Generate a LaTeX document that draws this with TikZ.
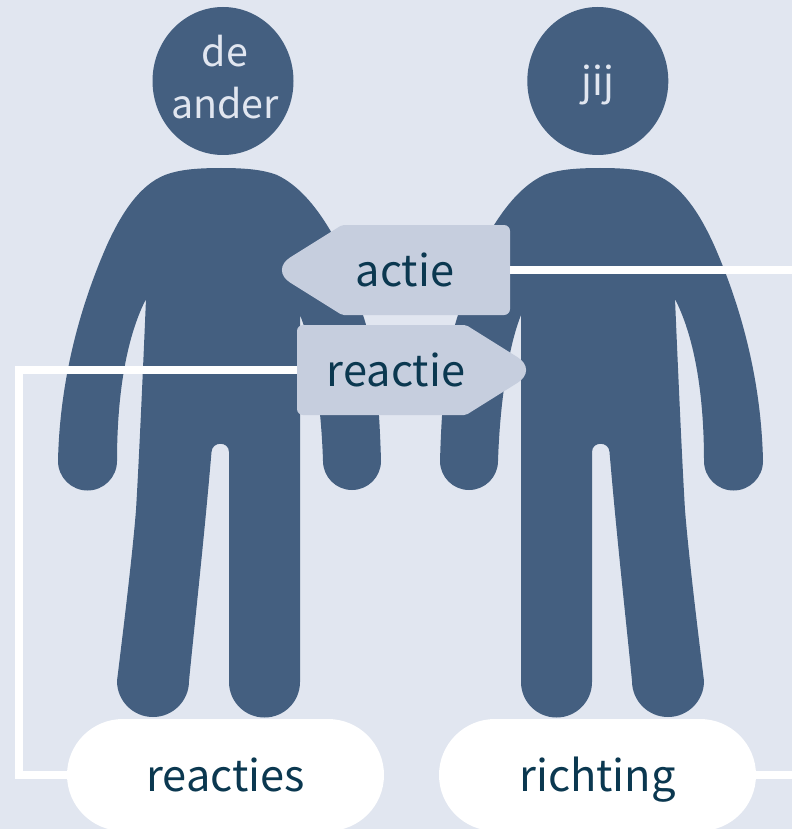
\documentclass[tikz,border=0pt]{standalone}
\usepackage{fontspec}
\setmainfont{Noto Sans CJK SC}
\usetikzlibrary{shapes.misc,shapes.geometric}
\definecolor{achtergrond}{HTML}{E1E6F0}
\definecolor{figuur}{HTML}{445F80}
\definecolor{pijlkleur}{HTML}{C6CEDE}
\definecolor{inkt}{HTML}{0B3850}
\tikzset{hoofd/.style={ellipse, fill=figuur, text=achtergrond, minimum width=141pt, minimum height=148pt, inner sep=-30pt, align=center, font=\fontsize{39.4}{52}\selectfont}}
\tikzset{pijl/.style={fill=pijlkleur, rounded corners=6pt}}
\tikzset{pijltekst/.style={rectangle, inner sep=+0pt, minimum height=90pt, text height=38pt, text depth=6pt, text=inkt, font=\fontsize{43.4}{52}\selectfont}}
\tikzset{pil/.style={rounded rectangle, fill=white, text=inkt, minimum width=317pt, minimum height=112pt, inner sep=+0pt, text height=40pt, text depth=6.6pt, font=\fontsize{43.4}{52}\selectfont}}
\tikzset{lijn/.style={draw=white, line width=8pt}}
\tikzset{persoon/.pic={
    \fill[figuur] (221,168) .. controls (195,168) and (178,170) .. (165,175)
        .. controls (140,185) and (122,212) .. (107,245)
        .. controls (85,295) and (60,370) .. (58,461)
        arc[radius=29.5, start angle=180, end angle=0]
        .. controls (117,400) and (125,340) .. (146,299)
        .. controls (143,370) and (139,460) .. (136,510)
        .. controls (132,560) and (122,640) .. (117,681)
        arc[radius=36, start angle=180, end angle=0]
        .. controls (195,620) and (204,540) .. (211.5,452)
        .. controls (212,441) and (229,441) .. (229,452)
        -- (229,682)
        arc[radius=35.5, start angle=180, end angle=0]
        -- (300,315) .. controls (312,345) and (321,400) .. (323,461)
        arc[radius=29, start angle=180, end angle=0]
        .. controls (379,390) and (373,345) .. (363,315)
        .. controls (355,285) and (345,255) .. (330,230)
        .. controls (315,205) and (298,185) .. (277,175)
        .. controls (264,170) and (247,168) .. (221,168) -- cycle;
}}

\begin{document}
\begin{tikzpicture}[x=1pt,y=-1pt]
    \useasboundingbox (0,0) rectangle (792,829);
    \clip (0,0) rectangle (792,829);
    \fill[achtergrond] (0,0) rectangle (792,829);

    \pic at (0,0) {persoon};
    \pic[xscale=-1] at (821,0) {persoon};

    \node[hoofd, text depth=8pt] (ander) at (223,81) {\hspace*{4pt}de\\\hspace*{4pt}ander};
    \node[hoofd, text height=38pt] (jij) at (597.8,81) {jij};

    \fill[pijl] (510,225) -- (510,315) [rounded corners=2pt] -- (342,315) [rounded corners=24pt] -- (270,270) [rounded corners=2pt] -- (342,225) [rounded corners=6pt] -- cycle;
    \fill[pijl] (297,325) -- (297,415) [rounded corners=2pt] -- (466,415) [rounded corners=24pt] -- (538,370) [rounded corners=2pt] -- (466,325) [rounded corners=6pt] -- cycle;
    \node[pijltekst, minimum width=210pt] (actie) at (405,270) {actie};
    \node[pijltekst, minimum width=198pt] (reactie) at (396,370) {reactie};

    \node[pil] (reacties) at (225.5,775) {reacties};
    \node[pil] (richting) at (597.5,775) {richting};

    \coordinate (uitactie) at (792,270);
    \coordinate (uitrichting) at (792,775);

    \draw[lijn] (actie.east) -- (uitactie);
    \draw[lijn] (richting.east) -- (uitrichting);
    \draw[lijn] (reactie.west) -| (19.3,775) -- (reacties.west);
\end{tikzpicture}
\end{document}
